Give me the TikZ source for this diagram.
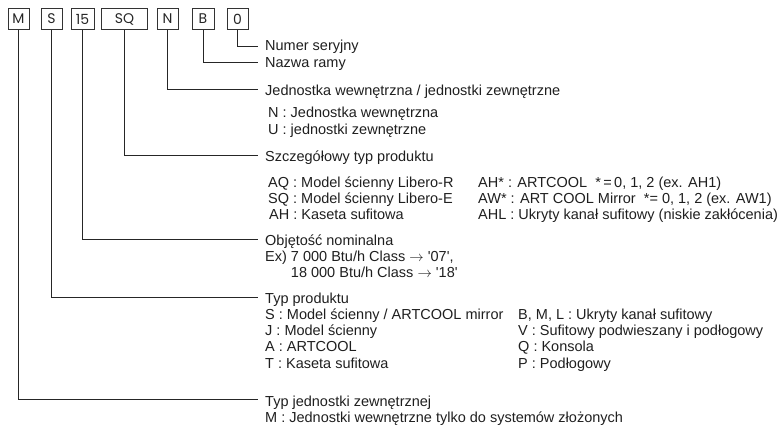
\documentclass[tikz,border=0pt]{standalone}
\usepackage{fontspec}
\setmainfont{Liberation Sans}
\newfontfamily\boxfont{Poppins}
\newcommand{\rarr}{\raisebox{0.5pt}{$\rightarrow$}}
\begin{document}
\begin{tikzpicture}[x=1pt,y=-1pt,
  codebox/.style={draw=black!80,line width=0.9pt,minimum height=21pt,inner sep=0pt,font=\boxfont\fontsize{14}{14}\selectfont,text=black!85},
  lbl/.style={anchor=base west,inner sep=0pt,font=\fontsize{14.5}{16}\selectfont,text=black!88},
  conn/.style={draw=black!85,line width=0.8pt}]
\useasboundingbox (0,0) rectangle (782,446);
% code boxes
\node[codebox,minimum width=21pt] (bM) at (18.5,19) {M};
\node[codebox,minimum width=21pt] (bS) at (51.5,19) {S};
\node[codebox,minimum width=23pt] (b15) at (82.5,19) {15};
\node[codebox,minimum width=46pt] (bSQ) at (124.5,19) {SQ};
\node[codebox,minimum width=21pt] (bN) at (167.5,19) {N};
\node[codebox,minimum width=22pt] (bB) at (203,19) {B};
\node[codebox,minimum width=21pt] (b0) at (237.5,19) {0};
% connector ends
\coordinate (e0) at (258,46);
\coordinate (eB) at (258,62);
\coordinate (eN) at (258,89);
\coordinate (eSQ) at (258,155);
\coordinate (e15) at (258,239);
\coordinate (eS) at (258,297);
\coordinate (eM) at (258,399);
\draw[conn] (b0.south) |- (e0);
\draw[conn] (bB.south) |- (eB);
\draw[conn] (bN.south) |- (eN);
\draw[conn] (bSQ.south) |- (eSQ);
\draw[conn] (b15.south) |- (e15);
\draw[conn] (bS.south) |- (eS);
\draw[conn] (bM.south) |- (eM);
% texts
\node[lbl] (t0) at (265,51) {Numer seryjny};
\node[lbl] (tB) at (265,68) {Nazwa ramy};
\node[lbl] (tN) at (265,96) {Jednostka wewnętrzna / jednostki zewnętrzne};
\node[lbl] (tN1) at (268,118) {N : Jednostka wewnętrzna};
\node[lbl] (tN2) at (268,135) {U : jednostki zewnętrzne};
\node[lbl] (tSQ) at (265,162) {Szczegółowy typ produktu};
\node[lbl] (tSQ1) at (268,188) {AQ : Model ścienny Libero-R};
\node[lbl] (tSQ2) at (268,204) {SQ : Model ścienny Libero-E};
\node[lbl] (tSQ3) at (269,220) {AH : Kaseta sufitowa};
\node[lbl] (tSQ4) at (478,188) {AH* : ARTCOOL \ *\,=\,0, 1, 2 (ex. AH1)};
\node[lbl] (tSQ5) at (478,204) {AW* : ART COOL Mirror \ *= 0, 1, 2 (ex. AW1)};
\node[lbl] (tSQ6) at (478,220) {AHL : Ukryty kanał sufitowy (niskie zakłócenia)};
\node[lbl] (t15) at (265,246) {Objętość nominalna};
\node[lbl] (t151) at (265,262) {Ex) 7 000 Btu/h Class \rarr\ \textquotesingle 07\textquotesingle,};
\node[lbl] (t152) at (265,278) {\phantom{Ex) }18 000 Btu/h Class \rarr\ \textquotesingle 18\textquotesingle};
\node[lbl] (tS) at (265,304) {Typ produktu};
\node[lbl] (tS1) at (265,320) {S : Model ścienny / ARTCOOL mirror};
\node[lbl] (tS2) at (265,336) {J : Model ścienny};
\node[lbl] (tS3) at (265,352) {A : ARTCOOL};
\node[lbl] (tS4) at (265,368) {T : Kaseta sufitowa};
\node[lbl] (tS5) at (518,320) {B, M, L : Ukryty kanał sufitowy};
\node[lbl] (tS6) at (518,336) {V : Sufitowy podwieszany i podłogowy};
\node[lbl] (tS7) at (518,352) {Q : Konsola};
\node[lbl] (tS8) at (518,368) {P : Podłogowy};
\node[lbl] (tM) at (265,406) {Typ jednostki zewnętrznej};
\node[lbl] (tM1) at (265,422) {M : Jednostki wewnętrzne tylko do systemów złożonych};
\end{tikzpicture}
\end{document}
